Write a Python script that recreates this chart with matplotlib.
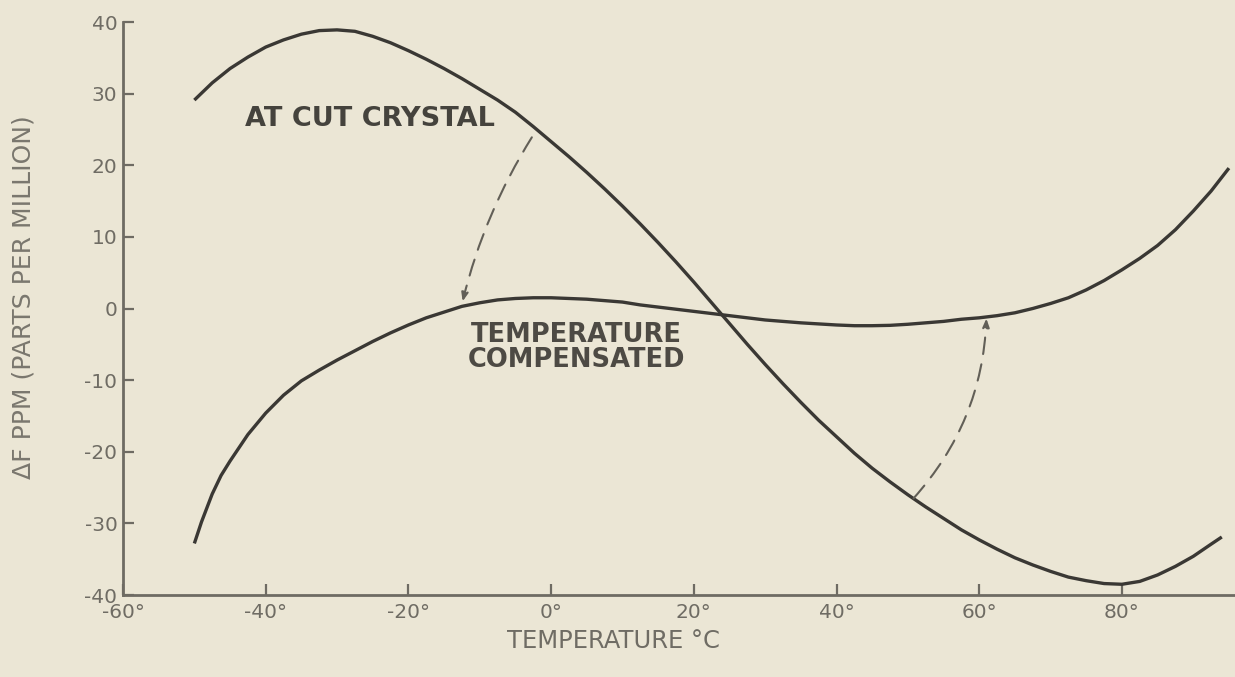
import matplotlib
matplotlib.use("Agg")
import matplotlib.pyplot as plt

# Frequency deviation of an AT-cut crystal vs. temperature
at_cut_temp = [-50, -47.5, -45, -42.5, -40, -37.5, -35, -32.5, -30, -27.5, -25,
               -22.5, -20, -17.5, -15, -12.5, -10, -7.5, -5, -2.5, 0, 2.5, 5,
               7.5, 10, 12.5, 15, 17.5, 20, 22.5, 25, 27.5, 30, 32.5, 35, 37.5,
               40, 42.5, 45, 47.5, 50, 52.5, 55, 57.5, 60, 62.5, 65, 67.5, 70,
               72.5, 75, 77.5, 80, 82.5, 85, 87.5, 90, 92.5, 94]
at_cut_ppm = [29.1, 31.5, 33.5, 35.1, 36.5, 37.5, 38.3, 38.8, 38.9, 38.7, 38.0,
              37.1, 36.0, 34.8, 33.5, 32.1, 30.6, 29.1, 27.4, 25.4, 23.3, 21.2,
              19.0, 16.7, 14.3, 11.8, 9.2, 6.5, 3.7, 0.8, -2.1, -5.0, -7.8,
              -10.5, -13.1, -15.6, -17.9, -20.2, -22.3, -24.2, -26.0, -27.7,
              -29.3, -30.9, -32.3, -33.6, -34.8, -35.8, -36.7, -37.5, -38.0,
              -38.4, -38.5, -38.1, -37.2, -36.0, -34.6, -32.9, -31.9]

# Same oscillator with temperature compensation
comp_temp = [-50, -49, -47.5, -46.25, -45, -42.5, -40, -37.5, -35, -32.5, -30,
             -27.5, -25, -22.5, -20, -17.5, -15, -12.5, -10, -7.5, -5, -2.5, 0,
             2.5, 5, 7.5, 10, 12.5, 15, 17.5, 20, 22.5, 25, 27.5, 30, 32.5, 35,
             37.5, 40, 42.5, 45, 47.5, 50, 52.5, 55, 57.5, 60, 62.5, 65, 67.5,
             70, 72.5, 75, 77.5, 80, 82.5, 85, 87.5, 90, 92.5, 95]
comp_ppm = [-32.8, -29.8, -25.9, -23.3, -21.3, -17.6, -14.6, -12.1, -10.1, -8.6,
            -7.2, -5.9, -4.6, -3.4, -2.3, -1.3, -0.5, 0.3, 0.8, 1.2, 1.4, 1.5,
            1.5, 1.4, 1.3, 1.1, 0.9, 0.5, 0.2, -0.1, -0.4, -0.7, -1.0, -1.3,
            -1.6, -1.8, -2.0, -2.15, -2.3, -2.4, -2.4, -2.35, -2.2, -2.0, -1.8,
            -1.5, -1.3, -1.0, -0.6, 0.0, 0.7, 1.5, 2.6, 3.9, 5.4, 7.0, 8.8,
            11.0, 13.6, 16.4, 19.6]

x_ticks = [-60, -40, -20, 0, 20, 40, 60, 80]
x_tick_labels = ["-60°", "-40°", "-20°", "0°", "20°", "40°", "60°", "80°"]
y_ticks = [-40, -30, -20, -10, 0, 10, 20, 30, 40]
y_tick_labels = ["-40", "-30", "-20", "-10", "0", "10", "20", "30", "40"]

# Compensation arrows: (start on AT curve) -> (end on compensated curve)
arrow_starts = [(-2.7, 23.9), (50.8, -26.5)]
arrow_ends = [(-12.4, 1.0), (61.0, -1.4)]
arrow_bends = [0.08, 0.18]

paper = "#ebe6d5"
ink = "#3a3834"
grey = "#6e6b63"

plt.rcParams["font.family"] = ["DejaVu Sans"]

fig = plt.figure(figsize=(12.35, 6.77), dpi=100, facecolor=paper)
ax = fig.add_axes([0.0996, 0.1211, 0.9004, 0.8464])
ax.set_facecolor(paper)

ax.plot(at_cut_temp, at_cut_ppm, color=ink, lw=2.4, solid_capstyle="butt",
        solid_joinstyle="round")
ax.plot(comp_temp, comp_ppm, color=ink, lw=2.4, solid_capstyle="butt",
        solid_joinstyle="round")

for (sx, sy), (ex, ey), rad in zip(arrow_starts, arrow_ends, arrow_bends):
    ax.annotate("", xy=(ex, ey), xytext=(sx, sy),
                arrowprops=dict(arrowstyle="-|>,head_length=0.5,head_width=0.2",
                                color="#625f57", lw=1.5, linestyle=(0, (8, 5)),
                                connectionstyle=f"arc3,rad={rad}",
                                shrinkA=0, shrinkB=0))

ax.text(-42.9, 26.5, "AT CUT CRYSTAL", fontsize=19.5, fontweight="bold",
        color="#45433d", va="center", ha="left")
ax.text(3.6, -5.5, "TEMPERATURE\nCOMPENSATED", fontsize=18.5, fontweight="bold",
        color="#4d4a44", va="center", ha="center", linespacing=0.95)

ax.set_xlim(-60, 95.85)
ax.set_ylim(-40, 40)
ax.spines["top"].set_visible(False)
ax.spines["right"].set_visible(False)
for s in ("left", "bottom"):
    ax.spines[s].set_color(grey)
    ax.spines[s].set_linewidth(2.0)

ax.set_xticks(x_ticks)
ax.set_xticklabels(x_tick_labels)
ax.set_yticks(y_ticks)
ax.set_yticklabels(y_tick_labels)
ax.tick_params(axis="both", direction="in", length=8, width=1.6, color=grey,
               labelcolor="#6f6c64", labelsize=14.5)
ax.tick_params(axis="y", pad=4)
ax.tick_params(axis="x", pad=6)

fig.text(0.497, 0.053, "TEMPERATURE °C", fontsize=17.5, color="#6f6c64",
         ha="center", va="center")
fig.text(0.019, 0.5606, "ΔF PPM (PARTS PER MILLION)", fontsize=18,
         color="#7a776e", ha="center", va="center", rotation=90)

fig.savefig("out.png", dpi=100, facecolor=paper)
